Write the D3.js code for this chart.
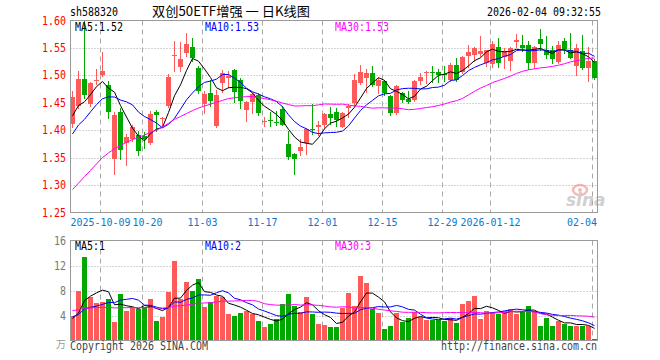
<!DOCTYPE html>
<html><head><meta charset="utf-8">
<script src="https://cdn.jsdelivr.net/npm/d3@7"></script>
<style>body{margin:0;background:#fff}svg{display:block}</style>
</head><body>
<svg id="c" width="660" height="360"></svg>
<script>
const dates = ["2025-09-24","2025-09-25","2025-09-26","2025-09-29","2025-09-30","2025-10-09","2025-10-10","2025-10-13","2025-10-14","2025-10-15","2025-10-16","2025-10-17","2025-10-20","2025-10-21","2025-10-22","2025-10-23","2025-10-24","2025-10-27","2025-10-28","2025-10-29","2025-10-30","2025-10-31","2025-11-03","2025-11-04","2025-11-05","2025-11-06","2025-11-07","2025-11-10","2025-11-11","2025-11-12","2025-11-13","2025-11-14","2025-11-17","2025-11-18","2025-11-19","2025-11-20","2025-11-21","2025-11-24","2025-11-25","2025-11-26","2025-11-27","2025-11-28","2025-12-01","2025-12-02","2025-12-03","2025-12-04","2025-12-05","2025-12-08","2025-12-09","2025-12-10","2025-12-11","2025-12-12","2025-12-15","2025-12-16","2025-12-17","2025-12-18","2025-12-19","2025-12-22","2025-12-23","2025-12-24","2025-12-25","2025-12-26","2025-12-29","2025-12-30","2025-12-31","2026-01-05","2026-01-06","2026-01-07","2026-01-08","2026-01-09","2026-01-12","2026-01-13","2026-01-14","2026-01-15","2026-01-16","2026-01-19","2026-01-20","2026-01-21","2026-01-22","2026-01-23","2026-01-26","2026-01-27","2026-01-28","2026-01-29","2026-01-30","2026-02-02","2026-02-03","2026-02-04"];
const opens = [1.411,1.445,1.494,1.447,1.490,1.500,1.483,1.348,1.434,1.377,1.384,1.392,1.389,1.376,1.433,1.420,1.445,1.535,1.515,1.541,1.552,1.514,1.448,1.468,1.407,1.486,1.496,1.509,1.491,1.437,1.452,1.464,1.416,1.418,1.415,1.439,1.375,1.356,1.362,1.376,1.403,1.405,1.410,1.430,1.434,1.405,1.441,1.449,1.486,1.496,1.505,1.480,1.490,1.462,1.431,1.468,1.457,1.455,1.490,1.505,1.507,1.506,1.503,1.492,1.519,1.507,1.535,1.537,1.539,1.523,1.520,1.552,1.533,1.527,1.560,1.555,1.556,1.522,1.566,1.547,1.546,1.525,1.562,1.547,1.517,1.544,1.514,1.526];
const highs = [1.472,1.508,1.600,1.488,1.511,1.543,1.489,1.433,1.440,1.393,1.410,1.398,1.397,1.435,1.437,1.425,1.502,1.562,1.560,1.578,1.569,1.517,1.471,1.492,1.474,1.509,1.508,1.511,1.496,1.454,1.468,1.468,1.425,1.434,1.435,1.445,1.398,1.358,1.384,1.404,1.448,1.416,1.432,1.443,1.441,1.433,1.447,1.503,1.519,1.511,1.517,1.495,1.492,1.465,1.483,1.470,1.472,1.492,1.505,1.508,1.517,1.511,1.517,1.523,1.532,1.535,1.556,1.552,1.571,1.547,1.563,1.569,1.549,1.551,1.575,1.574,1.562,1.554,1.585,1.572,1.554,1.562,1.568,1.578,1.557,1.574,1.551,1.529];
const lows = [1.405,1.440,1.459,1.445,1.484,1.499,1.423,1.320,1.348,1.337,1.380,1.354,1.368,1.375,1.398,1.410,1.443,1.508,1.508,1.535,1.527,1.468,1.431,1.445,1.405,1.469,1.478,1.451,1.441,1.417,1.431,1.428,1.407,1.408,1.409,1.409,1.347,1.321,1.354,1.357,1.394,1.392,1.404,1.411,1.407,1.405,1.425,1.445,1.484,1.470,1.480,1.467,1.464,1.427,1.429,1.451,1.450,1.454,1.485,1.486,1.487,1.487,1.489,1.489,1.489,1.504,1.516,1.526,1.535,1.517,1.516,1.516,1.514,1.509,1.551,1.544,1.511,1.514,1.547,1.532,1.523,1.523,1.540,1.532,1.500,1.511,1.489,1.494];
const closes = [1.461,1.494,1.464,1.486,1.492,1.508,1.433,1.428,1.364,1.387,1.406,1.362,1.384,1.430,1.428,1.422,1.497,1.537,1.530,1.558,1.532,1.472,1.466,1.453,1.464,1.505,1.499,1.470,1.453,1.452,1.466,1.431,1.417,1.416,1.414,1.410,1.351,1.348,1.370,1.402,1.401,1.410,1.430,1.422,1.419,1.431,1.445,1.492,1.507,1.505,1.483,1.492,1.467,1.431,1.481,1.455,1.452,1.490,1.497,1.507,1.506,1.500,1.501,1.518,1.492,1.533,1.542,1.549,1.544,1.546,1.558,1.522,1.544,1.549,1.565,1.549,1.522,1.552,1.558,1.538,1.530,1.556,1.548,1.532,1.549,1.513,1.527,1.496];
const volumes = [4.0,7.9,13.3,6.9,6.0,6.2,6.6,2.9,7.4,4.7,5.4,5.1,5.4,6.6,3.1,3.7,7.7,12.7,6.7,9.3,7.9,9.8,5.4,6.1,7.2,6.9,4.2,4.0,4.4,4.7,4.3,3.2,2.1,2.6,3.4,5.8,7.4,5.6,4.5,6.9,4.2,2.6,2.5,2.2,2.1,5.2,7.6,5.6,10.4,9.2,5.1,4.4,1.8,2.4,4.4,2.9,3.6,4.5,3.8,3.3,3.3,3.3,3.1,3.6,2.8,5.8,6.3,7.2,3.4,4.7,4.5,4.3,4.8,5.0,4.2,4.8,5.6,4.7,2.4,3.6,2.4,3.1,2.6,2.4,2.3,2.4,2.4,0.2];
// sessions before the first visible day (needed for the moving averages)
const priorCloses = [1.144,1.114,1.136,1.142,1.158,1.18,1.20,1.19,1.21,1.25,1.24,1.26,1.29,1.30,1.26,1.29,1.32,1.37,1.40,1.37,1.33,1.36,1.35,1.36,1.40,1.40,1.43,1.42,1.42];
const priorVolumes = [4.5,6.0,5.0,4.5,5.5,6.5,5.5,6.0,5.0,4.5,5.5,6.0,5.0,5.5,4.5,5.0,6.0,5.0,5.5,5.0,4.5,4.0,4.5,4.0,3.5,3.5,3.2,3.4,3.4];
const priceTicks = [1.25,1.30,1.35,1.40,1.45,1.50,1.55,1.60];
const volTicks = [4,8,12,16];
const xTickDates = ["2025-10-09","2025-10-20","2025-11-03","2025-11-17","2025-12-01","2025-12-15","2025-12-29","2026-01-12","2026-02-04"];
const xTickLabels = ["2025-10-09","10-20","11-03","11-17","12-01","12-15","12-29","2026-01-12","02-04"];
const maPeriods = [5,10,30];
const maColors = ["#000000","#0000ff","#ff00ff"];

const UP = "#ff5a5a", DOWN = "#00a800", GRID = "#a8a8a8", FRAME = "#9a9a9a";
const MONO = "'DejaVu Sans Mono', 'Liberation Mono', monospace";
const svg = d3.select("#c");

const L = 70.5, R = 597.5, T = 20.5, B = 212.5, VT = 240.5, VB = 340.5;
const x = d3.scaleBand().domain(dates).range([70, 597]).paddingInner(1/6).paddingOuter(0);
const y = d3.scaleLinear().domain([1.25, 1.60]).range([B, T]);
const yv = d3.scaleLinear().domain([0, 16]).range([VB, VT]);

function ma(series, prior, n) {
  const all = prior.concat(series), off = prior.length;
  return series.map((_, i) => d3.mean(all.slice(off + i - n + 1, off + i + 1)));
}
function txt(g, s, px, py, o = {}) {
  const t = g.append("text").attr("x", px).attr("y", py).text(s)
    .attr("font-family", o.family || MONO).attr("font-size", o.size || 12)
    .attr("fill", o.fill || "#000").attr("text-anchor", o.anchor || "start");
  if (o.cw !== 0) t.attr("textLength", s.length * (o.cw || 6)).attr("lengthAdjust", "spacingAndGlyphs");
  if (o.italic) t.attr("font-style", "italic");
  if (o.weight) t.attr("font-weight", o.weight);
  return t;
}

// header
txt(svg, "sh588320", 70, 16, {});
txt(svg, "双创50ETF增强 一 日K线图", 152, 16, {family: "'Noto Sans CJK SC', sans-serif", size: 13, cw: 0})
  .attr("textLength", 158).attr("lengthAdjust", "spacingAndGlyphs");
txt(svg, "2026-02-04 09:32:55", 601, 16, {anchor: "end"});

// grids
const g = svg.append("g");
function vgrid(top, bottom) {
  g.selectAll(null).data(xTickDates).enter().append("line")
    .attr("x1", d => x(d) + 0.5).attr("x2", d => x(d) + 0.5)
    .attr("y1", top).attr("y2", bottom)
    .attr("stroke", GRID).attr("stroke-dasharray", "5,4");
}
vgrid(T, B); vgrid(VT, VB);
g.selectAll(null).data(priceTicks.slice(1, -1)).enter().append("line")
  .attr("x1", L).attr("x2", R).attr("y1", d => Math.round(y(d)) + 0.5).attr("y2", d => Math.round(y(d)) + 0.5)
  .attr("stroke", GRID).attr("stroke-dasharray", "1,2");
g.selectAll(null).data(volTicks.slice(0, -1)).enter().append("line")
  .attr("x1", L).attr("x2", R).attr("y1", d => Math.round(yv(d)) + 0.5).attr("y2", d => Math.round(yv(d)) + 0.5)
  .attr("stroke", GRID).attr("stroke-dasharray", "1,2");

// axis labels
priceTicks.forEach(p => txt(svg, p.toFixed(2), 66, y(p) + 4, {anchor: "end", fill: "#ff0000"}));
volTicks.forEach(v => txt(svg, String(v), 66, yv(v) + 4, {anchor: "end", fill: "#777"}));
txt(svg, "万", 66, 348, {anchor: "end", fill: "#999", family: "'Noto Sans CJK SC', sans-serif", size: 10, cw: 0});
let prevEnd = -Infinity;
xTickDates.forEach((d, k) => {
  const s = xTickLabels[k], w = s.length * 6;
  let left = x(d) + 0.5 - w / 2;
  left = Math.max(70, Math.min(597 - w, left));
  left = Math.max(left, prevEnd + 2);
  prevEnd = left + w;
  txt(svg, s, left, 226, {fill: "#0a78cc", size: 10});
});

// watermark
const wm = svg.append("g").attr("opacity", 0.55);
wm.append("ellipse").attr("cx", 580).attr("cy", 190).attr("rx", 7).attr("ry", 5)
  .attr("fill", "none").attr("stroke", "#f08080").attr("stroke-width", 2.5);
wm.append("circle").attr("cx", 580).attr("cy", 190).attr("r", 2).attr("fill", "#f08080");
txt(wm, "sina", 566, 206, {family: "'DejaVu Sans', sans-serif", size: 17, italic: true, weight: "bold", fill: "#aaa", cw: 0});

// candles
const idx = d3.range(dates.length);
const cg = svg.append("g");
cg.selectAll(null).data(idx).enter().append("line")
  .attr("x1", i => x(dates[i]) + 2.5).attr("x2", i => x(dates[i]) + 2.5)
  .attr("y1", i => Math.round(y(highs[i]))).attr("y2", i => Math.round(y(lows[i])) + 1)
  .attr("stroke", i => closes[i] >= opens[i] ? UP : DOWN);
cg.selectAll(null).data(idx).enter().append("rect")
  .attr("x", i => x(dates[i])).attr("width", x.bandwidth())
  .attr("y", i => Math.round(y(Math.max(opens[i], closes[i]))))
  .attr("height", i => Math.max(1, Math.round(y(Math.min(opens[i], closes[i]))) - Math.round(y(Math.max(opens[i], closes[i])))))
  .attr("fill", i => closes[i] >= opens[i] ? UP : DOWN);

// volume bars
cg.selectAll(null).data(idx).enter().append("rect")
  .attr("x", i => x(dates[i])).attr("width", x.bandwidth())
  .attr("y", i => Math.round(yv(volumes[i])))
  .attr("height", i => 340 - Math.round(yv(volumes[i])))
  .attr("fill", i => closes[i] >= opens[i] ? UP : DOWN);

// moving averages
const priceMA = maPeriods.map(n => ma(closes, priorCloses, n));
const volMA = maPeriods.map(n => ma(volumes, priorVolumes, n));
const lineP = d3.line().x((_, i) => x(dates[i]) + 2.5).y(v => y(v));
const lineV = d3.line().x((_, i) => x(dates[i]) + 2.5).y(v => yv(v));
priceMA.forEach((s, k) => svg.append("path").attr("d", lineP(s)).attr("fill", "none").attr("stroke", maColors[k]).attr("stroke-width", 1));
volMA.forEach((s, k) => svg.append("path").attr("d", lineV(s)).attr("fill", "none").attr("stroke", maColors[k]).attr("stroke-width", 1));

// frames
svg.append("rect").attr("x", L).attr("y", T).attr("width", R - L).attr("height", B - T).attr("fill", "none").attr("stroke", FRAME);
svg.append("rect").attr("x", L).attr("y", VT).attr("width", R - L).attr("height", VB - VT).attr("fill", "none").attr("stroke", FRAME);

// MA legends
const lx = [75, 205, 335];
maPeriods.forEach((n, k) => {
  const last = priceMA[k][priceMA[k].length - 1];
  txt(svg, `MA${n}:${last.toFixed(2)}`, lx[k], 31, {fill: maColors[k]});
  const lv = volMA[k][volMA[k].length - 1];
  txt(svg, `MA${n}:${Math.floor(lv)}`, lx[k], 250, {fill: maColors[k]});
});

// footer
txt(svg, "Copyright 2026 SINA.COM", 70, 350, {fill: "#444"});
txt(svg, "http://finance.sina.com.cn", 597, 350, {anchor: "end", fill: "#444"});
</script>
</body></html>
